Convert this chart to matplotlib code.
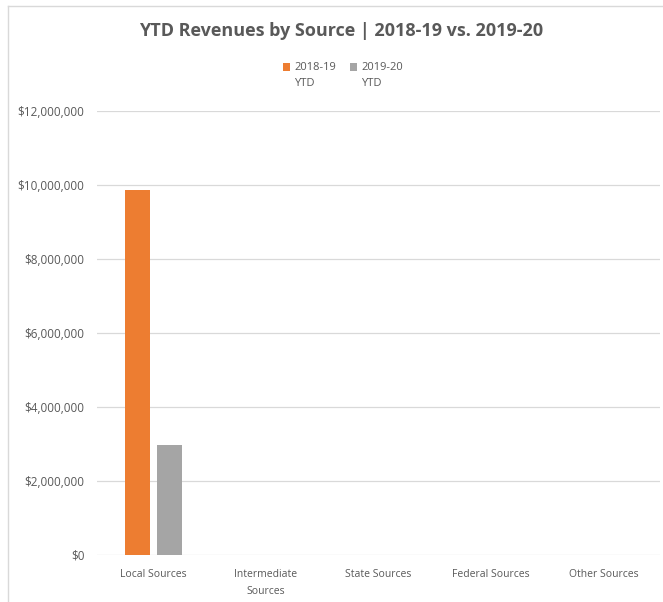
import matplotlib
matplotlib.use("Agg")
import matplotlib.pyplot as plt
from matplotlib.lines import Line2D
from matplotlib.patches import Rectangle
from matplotlib.ticker import FuncFormatter
import numpy as np

categories = ["Local Sources", "Intermediate\nSources", "State Sources",
              "Federal Sources", "Other Sources"]
series_names = ["2018-19\nYTD", "2019-20\nYTD"]
ytd_2018_19 = [9860000, 0, 0, 0, 0]
ytd_2019_20 = [2970000, 0, 0, 0, 0]
y_ticks = [0, 2000000, 4000000, 6000000, 8000000, 10000000, 12000000]

ORANGE = "#ED7D31"
GRAY = "#A5A5A5"
TEXT = "#595959"
GRID = "#D9D9D9"

plt.rcParams["font.family"] = ["Open Sans", "DejaVu Sans"]

W, H = 663, 602
fig = plt.figure(figsize=(W / 100, H / 100), dpi=100)

# plot area in pixel coordinates
left, right, top, bottom = 97, 660, 111, 555
ax = fig.add_axes([left / W, 1 - bottom / H, (right - left) / W, (bottom - top) / H])

x = np.arange(len(categories))
bw = 0.224
gap = 0.063
off = (bw + gap) / 2
ax.bar(x - off, ytd_2018_19, width=bw, color=ORANGE, zorder=3)
ax.bar(x + off, ytd_2019_20, width=bw, color=GRAY, zorder=3)

ax.set_xlim(-0.5, len(categories) - 0.5)
ax.set_ylim(0, 12000000)
ax.set_yticks(y_ticks)
ax.yaxis.set_major_formatter(FuncFormatter(lambda v, p: "${:,.0f}".format(v)))
ax.set_xticks(x)
ax.set_xticklabels(categories, fontsize=7.5, color=TEXT, linespacing=1.75)
ax.tick_params(axis="y", labelsize=8.5, labelcolor=TEXT, length=0, pad=9)
ax.tick_params(axis="x", length=0, pad=10)
ax.grid(axis="y", color=GRID, linewidth=0.9, zorder=0)
for s in ax.spines.values():
    s.set_visible(False)

# title
fig.text(341 / W, 1 - 31 / H, "YTD Revenues by Source | 2018-19 vs. 2019-20",
         ha="center", va="center", fontsize=13, fontweight="bold", color=TEXT)

# legend: swatch beside the first line, labels stacked in two lines
legend_x = [283, 350]
for px, name, col in zip(legend_x, series_names, (ORANGE, GRAY)):
    fig.add_artist(Rectangle((px / W, 1 - 70.5 / H), 7 / W, 7 / H,
                             transform=fig.transFigure, color=col, lw=0))
    for i, line in enumerate(name.split("\n")):
        fig.text((px + 11) / W, 1 - (67 + 16 * i) / H, line, ha="left",
                 va="center", fontsize=8, color=TEXT)

# chart frame lines
fig.add_artist(Line2D([8 / W, 8 / W], [0, 1 - 6 / H], transform=fig.transFigure,
                      color="#D9D9D9", linewidth=1))
fig.add_artist(Line2D([8 / W, 1], [1 - 6 / H, 1 - 6 / H], transform=fig.transFigure,
                      color="#D9D9D9", linewidth=1))

fig.savefig("out.png", dpi=100, facecolor="white")
